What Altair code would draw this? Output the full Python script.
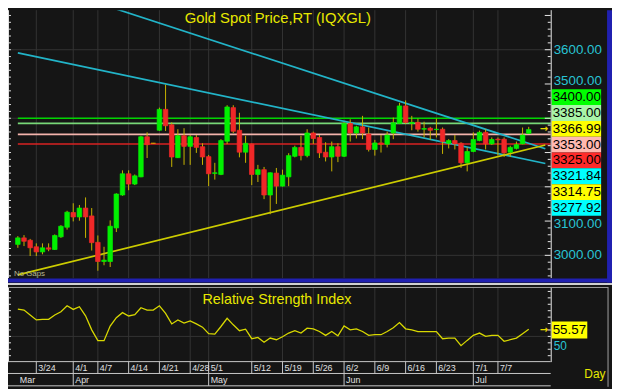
import altair as alt
import pandas as pd

# ---------------- data ----------------
opens = [3032, 3051, 3044, 3025, 3010, 3022, 3017, 3054, 3082, 3125,
         3112, 3138, 3115, 3038, 2982, 2982, 3080, 3176, 3238, 3208,
         3229, 3346, 3327, 3365, 3426, 3381, 3285, 3349, 3318, 3344,
         3317, 3288, 3239, 3236, 3333, 3431, 3365, 3301, 3325, 3236,
         3250, 3176, 3240, 3202, 3229, 3289, 3315, 3291, 3357, 3344,
         3301, 3287, 3317, 3289, 3385, 3357, 3375, 3354, 3309, 3328,
         3324, 3357, 3385, 3436, 3385, 3388, 3368, 3371, 3367, 3368,
         3327, 3335, 3327, 3270, 3303, 3335, 3359, 3325, 3339, 3339,
         3301, 3312, 3325, 3356]
highs = [3056, 3059, 3048, 3035, 3035, 3035, 3061, 3088, 3130, 3152,
         3147, 3169, 3138, 3058, 3025, 3102, 3181, 3248, 3248, 3236,
         3349, 3359, 3328, 3431, 3498, 3388, 3368, 3371, 3351, 3351,
         3327, 3293, 3270, 3339, 3438, 3438, 3416, 3349, 3326, 3264,
         3258, 3242, 3255, 3250, 3298, 3320, 3349, 3368, 3361, 3351,
         3330, 3332, 3327, 3388, 3397, 3378, 3407, 3373, 3337, 3351,
         3361, 3402, 3445, 3452, 3407, 3399, 3390, 3375, 3399, 3373,
         3339, 3351, 3330, 3315, 3359, 3364, 3368, 3344, 3344, 3344,
         3320, 3332, 3373, 3375]
lows = [3022, 3027, 2998, 2998, 3003, 3012, 3016, 3051, 3075, 3099,
        3101, 3051, 3014, 2955, 2971, 2966, 3068, 3174, 3190, 3205,
        3228, 3284, 3326, 3363, 3363, 3258, 3284, 3264, 3264, 3299,
        3264, 3202, 3221, 3234, 3325, 3357, 3286, 3270, 3205, 3214,
        3164, 3120, 3150, 3201, 3202, 3286, 3277, 3286, 3325, 3284,
        3274, 3245, 3272, 3287, 3332, 3341, 3339, 3303, 3291, 3300,
        3315, 3339, 3383, 3383, 3365, 3361, 3344, 3337, 3344, 3296,
        3312, 3309, 3255, 3245, 3301, 3333, 3309, 3322, 3291, 3287,
        3287, 3309, 3324, 3355]
closes = [3051, 3041, 3022, 3010, 3022, 3018, 3058, 3085, 3126, 3112,
          3138, 3112, 3037, 2982, 2986, 3085, 3179, 3238, 3208, 3232,
          3346, 3323, 3327, 3426, 3378, 3287, 3349, 3318, 3346, 3315,
          3287, 3238, 3241, 3335, 3433, 3362, 3301, 3327, 3236, 3250,
          3176, 3241, 3202, 3234, 3291, 3315, 3291, 3357, 3341, 3299,
          3287, 3317, 3289, 3385, 3357, 3375, 3357, 3309, 3328, 3324,
          3351, 3387, 3436, 3388, 3388, 3368, 3370, 3365, 3368, 3332,
          3335, 3325, 3270, 3303, 3338, 3359, 3325, 3338, 3337, 3299,
          3315, 3323, 3351, 3367]
rsi_vals = [71.3, 70.5, 66.7, 62.8, 63.3, 63.3, 66.7, 69.2, 73.8, 71.0,
            73.1, 66.0, 55.1, 46.7, 46.7, 58.0, 64.6, 68.5, 65.9, 66.9,
            72.3, 70.5, 70.5, 73.8, 67.9, 59.7, 62.8, 60.3, 62.1, 59.7,
            57.2, 52.1, 51.8, 57.7, 64.1, 59.0, 54.4, 55.6, 48.2, 49.2,
            45.4, 48.7, 47.4, 49.7, 52.6, 54.4, 52.6, 56.4, 55.9, 53.8,
            50.8, 53.8, 50.5, 58.2, 55.1, 55.9, 53.8, 50.8, 51.3, 51.3,
            53.8, 56.7, 60.8, 55.9, 55.1, 53.8, 53.8, 53.8, 53.8, 48.2,
            48.7, 48.7, 42.8, 46.9, 50.8, 52.6, 50.0, 50.8, 50.8, 46.2,
            47.4, 48.7, 52.1, 55.57]

tick_idx = [3, 9, 13, 18, 23, 28, 31, 38, 43, 48, 53, 58, 63, 68, 74, 78]
tick_lbl = ["3/24", "4/1", "4/7", "4/14", "4/21", "4/28", "5/1", "5/12",
            "5/19", "5/26", "6/2", "6/9", "6/16", "6/23", "7/1", "7/7"]
month_idx = [0, 9, 31, 53, 74]
month_lbl = ["Mar", "Apr", "May", "Jun", "Jul"]

level_vals = [3400, 3385, 3353, 3325]
trend_upper_k = [15.1, 85.7]
trend_upper_p = [3724, 3311]
trend_lower_k = [0, 85.7]
trend_lower_p = [3591, 3268]
trend_yel_k = [0, 85.7]
trend_yel_p = [2943, 3322]

box_labels = ["3400.00", "3385.00", "3366.99", "3353.00",
              "3325.00", "3321.84", "3314.75", "3277.92"]
price_axis = [3000, 3100, 3500, 3600]      # the visible scale labels
price_nudge = [0, 3, -3, 0]
grid_prices = [3000, 3200, 3400, 3600]
price_ticks = list(range(2940, 3701, 20))
rsi_ticks = list(range(35, 90, 5))
rsi_last = "55.57"
title_top = "Gold Spot Price,RT (IQXGL)"
title_rsi = "Relative Strength Index"

# ---------------- styles / layout ----------------
W, H = 611, 381
BG = "#151515"
GRID = "#343434"
FONT = "Liberation Sans, Arial, sans-serif"
YEL_TXT = "#e8e800"
CYAN_TXT = "#28c4d4"
GREEN = "#00f000"
RED = "#f02828"
WICK = "#c8b400"
FLAT = "#e0a000"
CYAN_LINE = "#22b4c8"
YEL_LINE = "#cccc00"
BLUE = "#2020b0"
level_colors = ["#00d400", "#78d878", "#f4b4ac", "#d82222"]
box_colors = ["#00ff00", "#a8f4a8", "#ffff00", "#ffb8b0",
              "#ff2a2a", "#00ffff", "#ffff00", "#00ffff"]

xs = alt.Scale(domain=[0, 83], range=[4.96, 531.76])
ys = alt.Scale(domain=[3000, 3600], range=[248, 40])
yr = alt.Scale(domain=[30, 90], range=[356, 278])
yslot = alt.Scale(domain=[0, 8], range=[80, 208])

def X(f):
    return alt.X(f, type="quantitative", scale=xs, axis=None)

def YP(f):
    return alt.Y(f, type="quantitative", scale=ys, axis=None)

def YR(f):
    return alt.Y(f, type="quantitative", scale=yr, axis=None)

def one(**kw):
    return pd.DataFrame({k: [v] for k, v in kw.items()})

n = len(opens)
cdf = pd.DataFrame({"k": list(range(n)), "o": opens, "h": highs, "l": lows, "c": closes})
cdf["dir"] = ["up" if c > o else ("down" if c < o else "flat") for o, c in zip(opens, closes)]
rdf = pd.DataFrame({"k": list(range(n)), "r": rsi_vals})
tdf = pd.DataFrame({"k": tick_idx, "lbl": tick_lbl})
mdf = pd.DataFrame({"k": month_idx, "lbl": month_lbl})
ptdf = pd.DataFrame({"v": price_ticks})
ptdf["major"] = ptdf["v"] % 100 == 0
rtdf = pd.DataFrame({"v": rsi_ticks})

layers = []

# grid
layers.append(alt.Chart(pd.DataFrame({"v": grid_prices})).mark_rule(color=GRID, strokeWidth=1).encode(
    x=alt.value(0), x2=alt.value(549), y=YP("v")))
layers.append(alt.Chart(tdf).mark_rule(color=GRID, strokeWidth=1).encode(
    x=X("k"), y=alt.value(0), y2=alt.value(271)))
layers.append(alt.Chart(tdf).mark_rule(color=GRID, strokeWidth=1).encode(
    x=X("k"), y=alt.value(281), y2=alt.value(355)))
layers.append(alt.Chart(pd.DataFrame({"v": [50]})).mark_rule(color=GRID, strokeWidth=1).encode(
    x=alt.value(0), x2=alt.value(549), y=YR("v")))

# horizontal level lines
for v, col in zip(level_vals, level_colors):
    layers.append(alt.Chart(pd.DataFrame({"k": [0], "v": [v]})).mark_rule(color=col, strokeWidth=1.6).encode(
        x=X("k"), x2=alt.value(549), y=YP("v")))

# trend lines
for ks, ps, col in [(trend_upper_k, trend_upper_p, CYAN_LINE),
                    (trend_lower_k, trend_lower_p, CYAN_LINE),
                    (trend_yel_k, trend_yel_p, YEL_LINE)]:
    layers.append(alt.Chart(pd.DataFrame({"k": ks, "p": ps})).mark_line(
        color=col, strokeWidth=1.7, clip=True).encode(x=X("k"), y=YP("p")))

# candles
layers.append(alt.Chart(cdf).mark_rule(color=WICK, strokeWidth=1).encode(
    x=X("k"), y=YP("l"), y2="h"))
dir_scale = alt.Scale(domain=["up", "down", "flat"], range=[GREEN, RED, FLAT])
layers.append(alt.Chart(cdf).mark_bar(size=4.6, strokeWidth=0.7).encode(
    x=X("k"), y=YP("o"), y2="c",
    color=alt.Color("dir:N", scale=dir_scale, legend=None),
    stroke=alt.Stroke("dir:N", scale=dir_scale, legend=None)))

# RSI line
layers.append(alt.Chart(rdf).mark_line(color="#d8d800", strokeWidth=1.3).encode(
    x=X("k"), y=YR("r")))

# axes lines and ticks
for xv in [0.5, 549.5]:
    layers.append(alt.Chart(one(a=0)).mark_rule(color="#e8e8e8", strokeWidth=1).encode(
        x=alt.value(xv), y=alt.value(0), y2=alt.value(271)))
    layers.append(alt.Chart(one(a=0)).mark_rule(color="#e8e8e8", strokeWidth=1).encode(
        x=alt.value(xv), y=alt.value(280), y2=alt.value(356)))
layers.append(alt.Chart(ptdf).mark_rule(color="#e8e8e8", strokeWidth=1).encode(
    x=alt.value(0), x2=alt.value(3), y=YP("v")))
layers.append(alt.Chart(ptdf[~ptdf["major"]]).mark_rule(color="#e8e8e8", strokeWidth=1).encode(
    x=alt.value(546), x2=alt.value(549), y=YP("v")))
layers.append(alt.Chart(ptdf[ptdf["major"]]).mark_rule(color="#e8e8e8", strokeWidth=1).encode(
    x=alt.value(543), x2=alt.value(549), y=YP("v")))
layers.append(alt.Chart(rtdf).mark_rule(color="#e8e8e8", strokeWidth=1).encode(
    x=alt.value(0), x2=alt.value(3), y=YR("v")))
layers.append(alt.Chart(rtdf).mark_rule(color="#e8e8e8", strokeWidth=1).encode(
    x=alt.value(546), x2=alt.value(549), y=YR("v")))

# frames
layers.append(alt.Chart(one(a=0)).mark_rect(color=BLUE).encode(
    x=alt.value(0), x2=alt.value(W), y=alt.value(271.5), y2=alt.value(275.5)))
layers.append(alt.Chart(one(a=0)).mark_rect(color=BLUE).encode(
    x=alt.value(606), x2=alt.value(W), y=alt.value(0), y2=alt.value(275.5)))
layers.append(alt.Chart(one(a=0)).mark_rect(color="#d0d0d0").encode(
    x=alt.value(0), x2=alt.value(W), y=alt.value(276), y2=alt.value(278)))
layers.append(alt.Chart(one(a=0)).mark_rule(color="#a0a0a0", strokeWidth=1).encode(
    x=alt.value(0), x2=alt.value(607), y=alt.value(280.5)))
layers.append(alt.Chart(one(a=0)).mark_rule(color="#a0a0a0", strokeWidth=1).encode(
    x=alt.value(607), y=alt.value(280), y2=alt.value(381)))

# date rows
for yv in [355.5, 367.5, 380]:
    layers.append(alt.Chart(one(a=0)).mark_rule(color="#c8c8c8", strokeWidth=1).encode(
        x=alt.value(0), x2=alt.value(549), y=alt.value(yv)))
layers.append(alt.Chart(tdf).mark_rule(color="#c8c8c8", strokeWidth=1).encode(
    x=X("k"), y=alt.value(355.5), y2=alt.value(367.5)))
layers.append(alt.Chart(mdf[mdf["k"] > 0]).mark_rule(color="#c8c8c8", strokeWidth=1).encode(
    x=X("k"), y=alt.value(367.5), y2=alt.value(380)))
layers.append(alt.Chart(tdf).mark_text(align="left", baseline="middle", dx=2, font=FONT,
                                       fontSize=9, color="#e0e0e0").encode(
    x=X("k"), y=alt.value(362), text="lbl:N"))
layers.append(alt.Chart(mdf).mark_text(align="left", baseline="middle", dx=2, font=FONT,
                                       fontSize=9, color="#e0e0e0").encode(
    x=X("k"), y=alt.value(374), text="lbl:N"))

# price labels and level boxes
for v, dy in zip(price_axis, price_nudge):
    layers.append(alt.Chart(pd.DataFrame({"v": [v], "lbl": [f"{v}.00"]})).mark_text(
        align="left", baseline="middle", dy=dy, font=FONT,
        fontSize=13.5, color=CYAN_TXT).encode(
        x=alt.value(552), y=YP("v"), text="lbl:N"))
bdf = pd.DataFrame({"slot": list(range(len(box_labels))), "lbl": box_labels})
bdf["slot2"] = bdf["slot"] + 1
bdf["mid"] = bdf["slot"] + 0.5
layers.append(alt.Chart(bdf).mark_rect().encode(
    x=alt.value(550), x2=alt.value(600),
    y=alt.Y("slot:Q", scale=yslot, axis=None), y2="slot2",
    color=alt.Color("lbl:N", scale=alt.Scale(domain=box_labels, range=box_colors), legend=None)))
layers.append(alt.Chart(bdf).mark_text(align="left", baseline="middle", font=FONT,
                                       fontSize=13.5, color="#000000").encode(
    x=alt.value(551), y=alt.Y("mid:Q", scale=yslot, axis=None), text="lbl:N"))

# RSI labels
layers.append(alt.Chart(pd.DataFrame({"v": [50], "lbl": ["50"]})).mark_text(
    align="left", baseline="middle", dy=10, font=FONT, fontSize=12, color=CYAN_TXT).encode(
    x=alt.value(552), y=YR("v"), text="lbl:N"))
layers.append(alt.Chart(one(a=0)).mark_rect(color="#ffff00").encode(
    x=alt.value(550), x2=alt.value(586), y=alt.value(315), y2=alt.value(332)))
layers.append(alt.Chart(pd.DataFrame({"lbl": [rsi_last]})).mark_text(
    align="left", baseline="middle", font=FONT, fontSize=13.5, color="#000000").encode(
    x=alt.value(551), y=alt.value(323.5), text="lbl:N"))

# arrows
for yv in [120.5, 323.5]:
    layers.append(alt.Chart(pd.DataFrame({"t": ["\u2192"]})).mark_text(
        align="center", baseline="middle", font="DejaVu Sans", fontSize=10,
        fontWeight="bold", color="#e8d800").encode(
        x=alt.value(542), y=alt.value(yv), text="t:N"))

# titles and notes
layers.append(alt.Chart(pd.DataFrame({"t": [title_top]})).mark_text(
    align="center", baseline="alphabetic", font=FONT, fontSize=15, color=YEL_TXT).encode(
    x=alt.value(273), y=alt.value(12.5), text="t:N"))
layers.append(alt.Chart(pd.DataFrame({"t": [title_rsi]})).mark_text(
    align="center", baseline="alphabetic", font=FONT, fontSize=14.5, color=YEL_TXT).encode(
    x=alt.value(272), y=alt.value(297), text="t:N"))
layers.append(alt.Chart(pd.DataFrame({"t": ["No Gaps"]})).mark_text(
    align="left", baseline="middle", font=FONT, fontSize=8, color="#b8b890").encode(
    x=alt.value(6), y=alt.value(267), text="t:N"))
layers.append(alt.Chart(pd.DataFrame({"t": ["Day"]})).mark_text(
    align="left", baseline="alphabetic", font=FONT, fontSize=12, color=YEL_TXT).encode(
    x=alt.value(583), y=alt.value(372), text="t:N"))

chart = alt.layer(*layers).resolve_scale(
    y="independent", color="independent", stroke="independent"
).properties(
    width=W, height=H, background=BG, padding=0,
    autosize=alt.AutoSizeParams(type="none")
).configure_view(stroke=None)

chart.save("out.html", embed_options={"renderer": "svg", "actions": False})
